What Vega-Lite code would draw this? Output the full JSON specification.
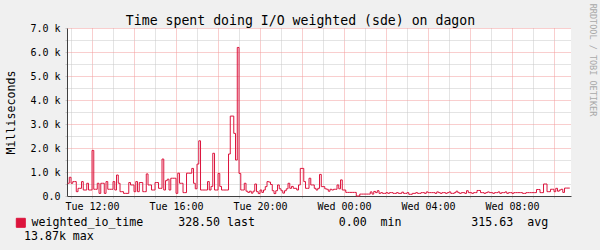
{
  "$schema": "https://vega.github.io/schema/vega-lite/v6.json",
  "width": 504,
  "height": 168,
  "padding": {"left": 67, "top": 28, "right": 29, "bottom": 54},
  "autosize": {"type": "none"},
  "background": "#f0f0f0",
  "config": {
    "view": {"fill": "#ffffff", "stroke": null},
    "axis": {"labelFont": "DejaVu Sans Mono", "labelFontSize": 10, "labelColor": "#000000", "titleFont": "DejaVu Sans Mono", "titleFontWeight": "normal", "titleColor": "#000000", "domainColor": "#404040"}
  },
  "data": {"values": [
        {"t":"2024-01-02T10:50","v":530},{"t":"2024-01-02T10:55","v":780},
        {"t":"2024-01-02T11:00","v":530},{"t":"2024-01-02T11:05","v":600},{"t":"2024-01-02T11:10","v":600},{"t":"2024-01-02T11:15","v":180},{"t":"2024-01-02T11:20","v":320},{"t":"2024-01-02T11:25","v":320},{"t":"2024-01-02T11:30","v":600},{"t":"2024-01-02T11:35","v":250},{"t":"2024-01-02T11:40","v":250},{"t":"2024-01-02T11:45","v":530},{"t":"2024-01-02T11:50","v":250},{"t":"2024-01-02T11:55","v":250},
        {"t":"2024-01-02T12:00","v":1900},{"t":"2024-01-02T12:05","v":280},{"t":"2024-01-02T12:10","v":280},{"t":"2024-01-02T12:15","v":530},{"t":"2024-01-02T12:20","v":110},{"t":"2024-01-02T12:25","v":530},{"t":"2024-01-02T12:30","v":530},{"t":"2024-01-02T12:35","v":110},{"t":"2024-01-02T12:40","v":600},{"t":"2024-01-02T12:45","v":280},{"t":"2024-01-02T12:50","v":280},{"t":"2024-01-02T12:55","v":280},
        {"t":"2024-01-02T13:00","v":600},{"t":"2024-01-02T13:05","v":250},{"t":"2024-01-02T13:10","v":875},{"t":"2024-01-02T13:15","v":530},{"t":"2024-01-02T13:20","v":180},{"t":"2024-01-02T13:25","v":180},{"t":"2024-01-02T13:30","v":110},{"t":"2024-01-02T13:35","v":110},{"t":"2024-01-02T13:40","v":110},{"t":"2024-01-02T13:45","v":560},{"t":"2024-01-02T13:50","v":460},{"t":"2024-01-02T13:55","v":460},
        {"t":"2024-01-02T14:00","v":180},{"t":"2024-01-02T14:05","v":600},{"t":"2024-01-02T14:10","v":180},{"t":"2024-01-02T14:15","v":560},{"t":"2024-01-02T14:20","v":560},{"t":"2024-01-02T14:25","v":180},{"t":"2024-01-02T14:30","v":180},{"t":"2024-01-02T14:35","v":920},{"t":"2024-01-02T14:40","v":460},{"t":"2024-01-02T14:45","v":460},{"t":"2024-01-02T14:50","v":250},{"t":"2024-01-02T14:55","v":250},
        {"t":"2024-01-02T15:00","v":560},{"t":"2024-01-02T15:05","v":560},{"t":"2024-01-02T15:10","v":320},{"t":"2024-01-02T15:15","v":320},{"t":"2024-01-02T15:20","v":1540},{"t":"2024-01-02T15:25","v":250},{"t":"2024-01-02T15:30","v":640},{"t":"2024-01-02T15:35","v":700},{"t":"2024-01-02T15:40","v":250},{"t":"2024-01-02T15:45","v":740},{"t":"2024-01-02T15:50","v":740},{"t":"2024-01-02T15:55","v":740},
        {"t":"2024-01-02T16:00","v":110},{"t":"2024-01-02T16:05","v":950},{"t":"2024-01-02T16:10","v":530},{"t":"2024-01-02T16:15","v":530},{"t":"2024-01-02T16:20","v":140},{"t":"2024-01-02T16:25","v":140},{"t":"2024-01-02T16:30","v":950},{"t":"2024-01-02T16:35","v":950},{"t":"2024-01-02T16:40","v":950},{"t":"2024-01-02T16:45","v":1150},{"t":"2024-01-02T16:50","v":530},{"t":"2024-01-02T16:55","v":300},
        {"t":"2024-01-02T17:00","v":1330},{"t":"2024-01-02T17:05","v":2300},{"t":"2024-01-02T17:10","v":250},{"t":"2024-01-02T17:15","v":250},{"t":"2024-01-02T17:20","v":250},{"t":"2024-01-02T17:25","v":250},{"t":"2024-01-02T17:30","v":600},{"t":"2024-01-02T17:35","v":250},{"t":"2024-01-02T17:40","v":400},{"t":"2024-01-02T17:45","v":1780},{"t":"2024-01-02T17:50","v":250},{"t":"2024-01-02T17:55","v":250},
        {"t":"2024-01-02T18:00","v":940},{"t":"2024-01-02T18:05","v":400},{"t":"2024-01-02T18:10","v":250},{"t":"2024-01-02T18:15","v":250},{"t":"2024-01-02T18:20","v":250},{"t":"2024-01-02T18:25","v":250},{"t":"2024-01-02T18:30","v":1750},{"t":"2024-01-02T18:35","v":3330},{"t":"2024-01-02T18:40","v":3330},{"t":"2024-01-02T18:45","v":2610},{"t":"2024-01-02T18:50","v":1500},{"t":"2024-01-02T18:55","v":6190},
        {"t":"2024-01-02T19:00","v":940},{"t":"2024-01-02T19:05","v":250},{"t":"2024-01-02T19:10","v":250},{"t":"2024-01-02T19:15","v":530},{"t":"2024-01-02T19:20","v":200},{"t":"2024-01-02T19:25","v":150},{"t":"2024-01-02T19:30","v":200},{"t":"2024-01-02T19:35","v":120},{"t":"2024-01-02T19:40","v":200},{"t":"2024-01-02T19:45","v":500},{"t":"2024-01-02T19:50","v":180},{"t":"2024-01-02T19:55","v":100},
        {"t":"2024-01-02T20:00","v":250},{"t":"2024-01-02T20:05","v":150},{"t":"2024-01-02T20:10","v":250},{"t":"2024-01-02T20:15","v":390},{"t":"2024-01-02T20:20","v":600},{"t":"2024-01-02T20:25","v":580},{"t":"2024-01-02T20:30","v":480},{"t":"2024-01-02T20:35","v":220},{"t":"2024-01-02T20:40","v":100},{"t":"2024-01-02T20:45","v":220},{"t":"2024-01-02T20:50","v":460},{"t":"2024-01-02T20:55","v":300},
        {"t":"2024-01-02T21:00","v":220},{"t":"2024-01-02T21:05","v":120},{"t":"2024-01-02T21:10","v":220},{"t":"2024-01-02T21:15","v":300},{"t":"2024-01-02T21:20","v":530},{"t":"2024-01-02T21:25","v":320},{"t":"2024-01-02T21:30","v":400},{"t":"2024-01-02T21:35","v":320},{"t":"2024-01-02T21:40","v":320},{"t":"2024-01-02T21:45","v":250},{"t":"2024-01-02T21:50","v":460},{"t":"2024-01-02T21:55","v":1150},
        {"t":"2024-01-02T22:00","v":1150},{"t":"2024-01-02T22:05","v":600},{"t":"2024-01-02T22:10","v":320},{"t":"2024-01-02T22:15","v":320},{"t":"2024-01-02T22:20","v":740},{"t":"2024-01-02T22:25","v":460},{"t":"2024-01-02T22:30","v":460},{"t":"2024-01-02T22:35","v":320},{"t":"2024-01-02T22:40","v":250},{"t":"2024-01-02T22:45","v":320},{"t":"2024-01-02T22:50","v":900},{"t":"2024-01-02T22:55","v":390},
        {"t":"2024-01-02T23:00","v":390},{"t":"2024-01-02T23:05","v":300},{"t":"2024-01-02T23:10","v":280},{"t":"2024-01-02T23:15","v":200},{"t":"2024-01-02T23:20","v":280},{"t":"2024-01-02T23:25","v":250},{"t":"2024-01-02T23:30","v":280},{"t":"2024-01-02T23:35","v":280},{"t":"2024-01-02T23:40","v":460},{"t":"2024-01-02T23:45","v":300},{"t":"2024-01-02T23:50","v":670},{"t":"2024-01-02T23:55","v":250},
        {"t":"2024-01-03T00:00","v":250},{"t":"2024-01-03T00:05","v":150},{"t":"2024-01-03T00:10","v":150},{"t":"2024-01-03T00:15","v":150},{"t":"2024-01-03T00:20","v":150},{"t":"2024-01-03T00:25","v":150},{"t":"2024-01-03T00:30","v":150},{"t":"2024-01-03T00:35","v":0},{"t":"2024-01-03T00:40","v":0},{"t":"2024-01-03T00:45","v":80},{"t":"2024-01-03T00:50","v":80},{"t":"2024-01-03T00:55","v":80},
        {"t":"2024-01-03T01:00","v":80},{"t":"2024-01-03T01:05","v":80},{"t":"2024-01-03T01:10","v":80},{"t":"2024-01-03T01:15","v":170},{"t":"2024-01-03T01:20","v":80},{"t":"2024-01-03T01:25","v":190},{"t":"2024-01-03T01:30","v":140},{"t":"2024-01-03T01:35","v":220},{"t":"2024-01-03T01:40","v":110},{"t":"2024-01-03T01:45","v":140},{"t":"2024-01-03T01:50","v":110},{"t":"2024-01-03T01:55","v":110},
        {"t":"2024-01-03T02:00","v":140},{"t":"2024-01-03T02:05","v":110},{"t":"2024-01-03T02:10","v":140},{"t":"2024-01-03T02:15","v":140},{"t":"2024-01-03T02:20","v":110},{"t":"2024-01-03T02:25","v":110},{"t":"2024-01-03T02:30","v":140},{"t":"2024-01-03T02:35","v":110},{"t":"2024-01-03T02:40","v":110},{"t":"2024-01-03T02:45","v":160},{"t":"2024-01-03T02:50","v":110},{"t":"2024-01-03T02:55","v":110},
        {"t":"2024-01-03T03:00","v":140},{"t":"2024-01-03T03:05","v":70},{"t":"2024-01-03T03:10","v":70},{"t":"2024-01-03T03:15","v":110},{"t":"2024-01-03T03:20","v":110},{"t":"2024-01-03T03:25","v":140},{"t":"2024-01-03T03:30","v":110},{"t":"2024-01-03T03:35","v":110},{"t":"2024-01-03T03:40","v":140},{"t":"2024-01-03T03:45","v":140},{"t":"2024-01-03T03:50","v":110},{"t":"2024-01-03T03:55","v":170},
        {"t":"2024-01-03T04:00","v":140},{"t":"2024-01-03T04:05","v":140},{"t":"2024-01-03T04:10","v":140},{"t":"2024-01-03T04:15","v":140},{"t":"2024-01-03T04:20","v":110},{"t":"2024-01-03T04:25","v":170},{"t":"2024-01-03T04:30","v":140},{"t":"2024-01-03T04:35","v":110},{"t":"2024-01-03T04:40","v":140},{"t":"2024-01-03T04:45","v":140},{"t":"2024-01-03T04:50","v":110},{"t":"2024-01-03T04:55","v":140},
        {"t":"2024-01-03T05:00","v":170},{"t":"2024-01-03T05:05","v":110},{"t":"2024-01-03T05:10","v":110},{"t":"2024-01-03T05:15","v":140},{"t":"2024-01-03T05:20","v":200},{"t":"2024-01-03T05:25","v":140},{"t":"2024-01-03T05:30","v":110},{"t":"2024-01-03T05:35","v":140},{"t":"2024-01-03T05:40","v":140},{"t":"2024-01-03T05:45","v":110},{"t":"2024-01-03T05:50","v":220},{"t":"2024-01-03T05:55","v":140},
        {"t":"2024-01-03T06:00","v":140},{"t":"2024-01-03T06:05","v":110},{"t":"2024-01-03T06:10","v":140},{"t":"2024-01-03T06:15","v":140},{"t":"2024-01-03T06:20","v":230},{"t":"2024-01-03T06:25","v":230},{"t":"2024-01-03T06:30","v":140},{"t":"2024-01-03T06:35","v":140},{"t":"2024-01-03T06:40","v":110},{"t":"2024-01-03T06:45","v":140},{"t":"2024-01-03T06:50","v":170},{"t":"2024-01-03T06:55","v":140},
        {"t":"2024-01-03T07:00","v":140},{"t":"2024-01-03T07:05","v":110},{"t":"2024-01-03T07:10","v":140},{"t":"2024-01-03T07:15","v":140},{"t":"2024-01-03T07:20","v":170},{"t":"2024-01-03T07:25","v":110},{"t":"2024-01-03T07:30","v":140},{"t":"2024-01-03T07:35","v":140},{"t":"2024-01-03T07:40","v":170},{"t":"2024-01-03T07:45","v":110},{"t":"2024-01-03T07:50","v":140},{"t":"2024-01-03T07:55","v":140},
        {"t":"2024-01-03T08:00","v":110},{"t":"2024-01-03T08:05","v":140},{"t":"2024-01-03T08:10","v":140},{"t":"2024-01-03T08:15","v":140},{"t":"2024-01-03T08:20","v":140},{"t":"2024-01-03T08:25","v":140},{"t":"2024-01-03T08:30","v":110},{"t":"2024-01-03T08:35","v":110},{"t":"2024-01-03T08:40","v":140},{"t":"2024-01-03T08:45","v":140},{"t":"2024-01-03T08:50","v":140},{"t":"2024-01-03T08:55","v":140},
        {"t":"2024-01-03T09:00","v":140},{"t":"2024-01-03T09:05","v":140},{"t":"2024-01-03T09:10","v":270},{"t":"2024-01-03T09:15","v":270},{"t":"2024-01-03T09:20","v":140},{"t":"2024-01-03T09:25","v":140},{"t":"2024-01-03T09:30","v":500},{"t":"2024-01-03T09:35","v":500},{"t":"2024-01-03T09:40","v":180},{"t":"2024-01-03T09:45","v":180},{"t":"2024-01-03T09:50","v":280},{"t":"2024-01-03T09:55","v":280},
        {"t":"2024-01-03T10:00","v":180},{"t":"2024-01-03T10:05","v":320},{"t":"2024-01-03T10:10","v":200},{"t":"2024-01-03T10:15","v":250},{"t":"2024-01-03T10:20","v":280},{"t":"2024-01-03T10:25","v":150},{"t":"2024-01-03T10:30","v":330},{"t":"2024-01-03T10:35","v":330},{"t":"2024-01-03T10:40","v":330},{"t":"2024-01-03T10:45","v":330}
  ]},
  "title": {"text": "RRDTOOL / TOBI OETIKER", "orient": "right", "anchor": "middle", "frame": "group", "angle": 90, "dx": -52, "offset": 10, "baseline": "alphabetic", "font": "DejaVu Sans Mono", "fontSize": 8.5, "fontWeight": "normal", "color": "#a8a8a8"},
  "mark": {"type": "line", "interpolate": "step-after", "strokeWidth": 1},
  "encoding": {
    "x": {
      "field": "t", "type": "temporal",
      "scale": {"domain": ["2024-01-02T10:48:30", "2024-01-03T10:48:30"], "nice": false},
      "axis": {
        "tickCount": 24,
        "labelExpr": "hours(datum.value) % 4 === 0 ? timeFormat(datum.value, '%a %H:%M') : ''",
        "labelOverlap": false, "labelFlush": false, "labelPadding": 3,
        "grid": true, "gridDash": [1, 1],
        "gridColor": {"condition": {"test": "hours(datum.value) % 2 === 0", "value": "#f29c9c"}, "value": "#c8c8c8"},
        "tickSize": 2, "tickColor": "#c8c8c8",
        "title": "Time spent doing I/O weighted (sde) on dagon", "titleFontSize": 13.2, "titleX": 233, "titleY": -172, "titleAlign": "center", "titleBaseline": "alphabetic"
      }
    },
    "y": {
      "field": "v", "type": "quantitative",
      "scale": {"domain": [0, 7000], "nice": false},
      "axis": {
        "values": [0, 500, 1000, 1500, 2000, 2500, 3000, 3500, 4000, 4500, 5000, 5500, 6000, 6500, 7000],
        "labelExpr": "datum.value === 0 ? '0.0\u00a0\u00a0' : (datum.value % 1000 === 0 ? format(datum.value / 1000, '.1f') + ' k' : '')",
        "labelOverlap": false, "labelFlush": false, "labelPadding": 5,
        "grid": true, "gridDash": [1, 1],
        "gridColor": {"condition": {"test": "datum.value % 1000 === 0", "value": "#f29c9c"}, "value": "#c8c8c8"},
        "tickSize": 2, "tickColor": "#c8c8c8",
        "title": "Milliseconds", "titleFontSize": 11.6, "titleAngle": -90, "titleX": -56, "titleY": 84, "titleAlign": "center", "titleBaseline": "middle"
      }
    },
    "color": {
      "datum": "weighted_io_time",
      "scale": {"range": ["#dc143c"]},
      "legend": {
        "orient": "none", "legendX": -52, "legendY": 189, "padding": 0,
        "title": "\u280013.87k max", "titleOrient": "bottom", "titleAnchor": "start", "titlePadding": 2, "titleBaseline": "top",
        "titleFont": "DejaVu Sans Mono", "titleFontSize": 11.6, "titleFontWeight": "normal", "titleColor": "#000000",
        "labelExpr": "'weighted_io_time\u00a0\u00a0\u00a0\u00a0\u00a0328.50\u00a0last\u00a0\u00a0\u00a0\u00a0\u00a0\u00a0\u00a0\u00a0\u00a0\u00a0\u00a0\u00a00.00\u00a0\u00a0min\u00a0\u00a0\u00a0\u00a0\u00a0\u00a0\u00a0\u00a0\u00a0\u00a0315.63\u00a0\u00a0avg'",
        "labelFont": "DejaVu Sans Mono", "labelFontSize": 11.6, "labelColor": "#000000", "labelLimit": 1000, "labelOffset": 5,
        "symbolType": "square", "symbolSize": 81, "symbolFillColor": "#dc143c", "symbolStrokeColor": "#000000", "symbolStrokeWidth": 1
      }
    }
  }
}
